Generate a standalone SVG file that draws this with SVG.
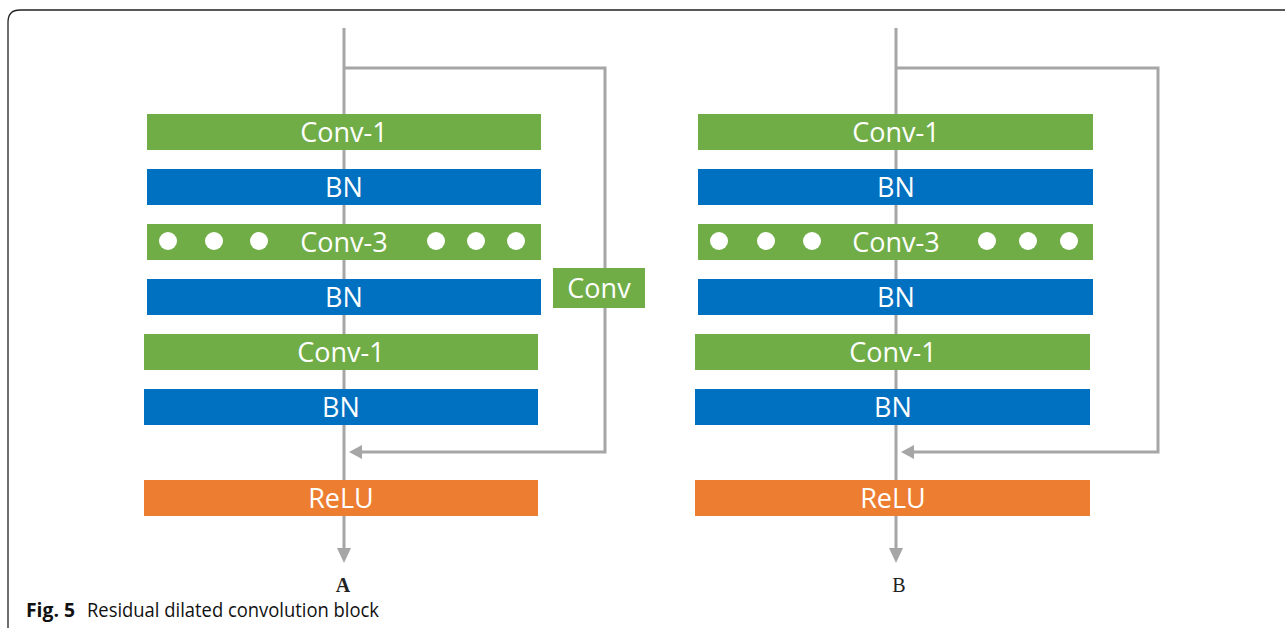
<svg xmlns="http://www.w3.org/2000/svg" width="1285" height="628" viewBox="0 0 1285 628">
<style>
.g{fill:#70AD47}
.b{fill:#0070C0}
.o{fill:#ED7D31}
.t{font-family:"Open Sans","Noto Sans",sans-serif;font-size:27px;fill:#ffffff;text-anchor:middle}
.ln{fill:none;stroke:#A6A6A6;stroke-width:3}
.dot{fill:#ffffff}
.lab{font-family:"Liberation Serif",serif;font-size:20px;fill:#222;text-anchor:middle}
</style>
<rect width="1285" height="628" fill="#ffffff"/>
<path d="M8,628 L8,22 Q8,10 20,10 L1285,10" fill="none" stroke="#222" stroke-width="1.3"/>

<g id="connectors">
<line class="ln" x1="344" y1="28" x2="344" y2="548"/>
<path d="M337,548 L351,548 L344,563 z" fill="#A6A6A6"/>
<polyline class="ln" points="344,68 605,68 605,452 362,452"/>
<path d="M362,445 L362,459 L349,452 z" fill="#A6A6A6"/>
<line class="ln" x1="896" y1="28" x2="896" y2="548"/>
<path d="M889,548 L903,548 L896,563 z" fill="#A6A6A6"/>
<polyline class="ln" points="896,68 1158,68 1158,452 914,452"/>
<path d="M914,445 L914,459 L901,452 z" fill="#A6A6A6"/>
</g>

<g id="a-conv1"><rect class="g" x="147" y="114" width="394" height="36"/><text class="t" x="344" y="142">Conv-1</text></g>
<g id="a-bn1"><rect class="b" x="147" y="169" width="394" height="36"/><text class="t" x="344" y="197">BN</text></g>
<g id="a-conv3"><rect class="g" x="147" y="224" width="394" height="36"/><text class="t" x="344" y="252">Conv-3</text>
<circle class="dot" cx="168" cy="241" r="9"/><circle class="dot" cx="214" cy="241" r="9"/><circle class="dot" cx="259" cy="241" r="9"/>
<circle class="dot" cx="436" cy="241" r="9"/><circle class="dot" cx="476" cy="241" r="9"/><circle class="dot" cx="516" cy="241" r="9"/></g>
<g id="a-bn2"><rect class="b" x="147" y="279" width="394" height="36"/><text class="t" x="344" y="307">BN</text></g>
<g id="a-conv1b"><rect class="g" x="144" y="334" width="394" height="36"/><text class="t" x="341" y="362">Conv-1</text></g>
<g id="a-bn3"><rect class="b" x="144" y="389" width="394" height="36"/><text class="t" x="341" y="417">BN</text></g>
<g id="a-relu"><rect class="o" x="144" y="480" width="394" height="36"/><text class="t" x="341" y="508">ReLU</text></g>
<g id="a-conv"><rect class="g" x="553" y="268" width="92" height="40"/><text class="t" x="599" y="298">Conv</text></g>
<g id="a-label"><text class="lab" x="343" y="592" font-weight="bold">A</text></g>

<g id="b-conv1"><rect class="g" x="698" y="114" width="395" height="36"/><text class="t" x="896" y="142">Conv-1</text></g>
<g id="b-bn1"><rect class="b" x="698" y="169" width="395" height="36"/><text class="t" x="896" y="197">BN</text></g>
<g id="b-conv3"><rect class="g" x="698" y="224" width="395" height="36"/><text class="t" x="896" y="252">Conv-3</text>
<circle class="dot" cx="719" cy="241" r="9"/><circle class="dot" cx="766" cy="241" r="9"/><circle class="dot" cx="812" cy="241" r="9"/>
<circle class="dot" cx="987" cy="241" r="9"/><circle class="dot" cx="1028" cy="241" r="9"/><circle class="dot" cx="1069" cy="241" r="9"/></g>
<g id="b-bn2"><rect class="b" x="698" y="279" width="395" height="36"/><text class="t" x="896" y="307">BN</text></g>
<g id="b-conv1b"><rect class="g" x="695" y="334" width="395" height="36"/><text class="t" x="893" y="362">Conv-1</text></g>
<g id="b-bn3"><rect class="b" x="695" y="389" width="395" height="36"/><text class="t" x="893" y="417">BN</text></g>
<g id="b-relu"><rect class="o" x="695" y="480" width="395" height="36"/><text class="t" x="893" y="508">ReLU</text></g>
<g id="b-label"><text class="lab" x="899" y="592">B</text></g>

<g id="caption" font-family="'Open Sans','Noto Sans',sans-serif" font-size="20" fill="#111">
<text x="26" y="617" font-weight="bold" textLength="49" lengthAdjust="spacingAndGlyphs">Fig. 5</text>
<text x="87" y="617" textLength="292" lengthAdjust="spacingAndGlyphs">Residual dilated convolution block</text>
</g>
</svg>
